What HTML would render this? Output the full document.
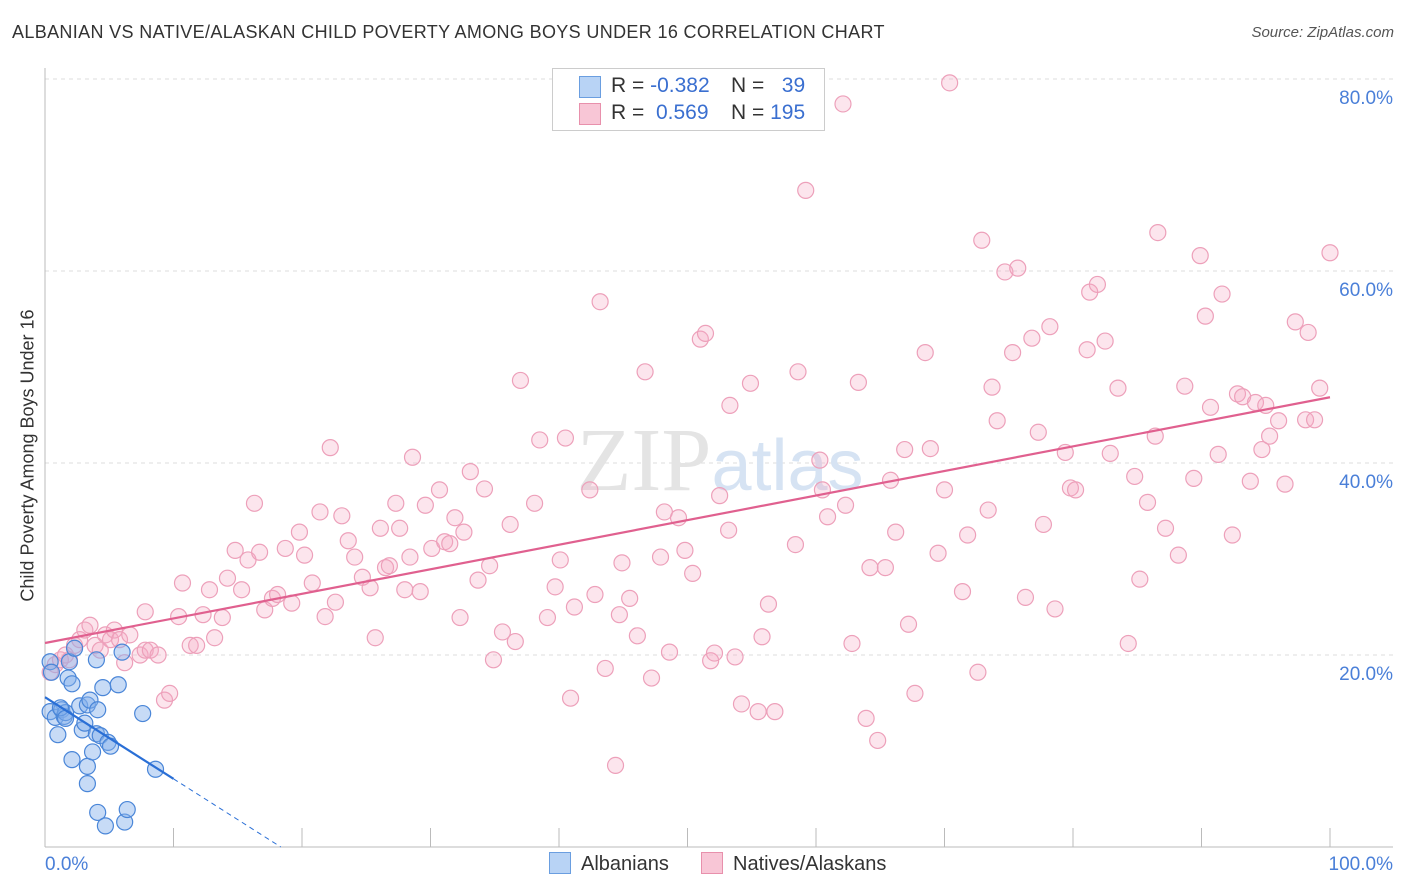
<!DOCTYPE html>
<html><head><meta charset="utf-8">
<style>
body{margin:0;background:#fff;font-family:"Liberation Sans",sans-serif;}
#wrap{position:relative;width:1406px;height:892px;overflow:hidden;}
.t{position:absolute;white-space:nowrap;}
</style></head><body>
<div id="wrap">
<div class="t" style="left:12px;top:22px;font-size:18px;color:#333;letter-spacing:0.35px">ALBANIAN VS NATIVE/ALASKAN CHILD POVERTY AMONG BOYS UNDER 16 CORRELATION CHART</div>
<div class="t" style="right:12px;top:24px;font-size:15px;color:#555;font-style:italic">Source: ZipAtlas.com</div>
<div class="t" style="left:-132px;top:445px;font-size:18px;color:#333;transform:rotate(-90deg);width:320px;text-align:center">Child Poverty Among Boys Under 16</div>
<svg id="plot" width="1406" height="892" style="position:absolute;left:0;top:0"></svg>
<div class="t" style="left:552px;top:68px;width:271px;height:61px;border:1px solid #ccc;background:#fff;font-size:21px;">
 <div style="position:absolute;left:26px;top:7px;width:20px;height:20px;background:#b8d3f5;border:1px solid #6a9ee0"></div>
 <div style="position:absolute;left:58px;top:5px;color:#333">R = <span style="color:#3a6fd0">-0.382</span></div>
 <div style="position:absolute;left:178px;top:5px;color:#333">N = <span style="color:#3a6fd0">&nbsp;&nbsp;39</span></div>
 <div style="position:absolute;left:26px;top:34px;width:20px;height:20px;background:#f8c6d6;border:1px solid #e890ac"></div>
 <div style="position:absolute;left:58px;top:32px;color:#333">R = <span style="color:#3a6fd0">&nbsp;0.569</span></div>
 <div style="position:absolute;left:178px;top:32px;color:#333">N = <span style="color:#3a6fd0">195</span></div>
</div>
<div class="t" style="left:549px;top:852px;font-size:20px;color:#333"><span style="display:inline-block;width:20px;height:20px;background:#b8d3f5;border:1px solid #6a9ee0;vertical-align:-4px;margin-right:10px"></span>Albanians</div>
<div class="t" style="left:701px;top:852px;font-size:20px;color:#333"><span style="display:inline-block;width:20px;height:20px;background:#f8c6d6;border:1px solid #e890ac;vertical-align:-4px;margin-right:10px"></span>Natives/Alaskans</div>
</div>
<script>
const yTicks=[20,40,60,80];
const yTickLabels=["20.0%","40.0%","60.0%","80.0%"];
const xTicks=[0,10,20,30,40,50,60,70,80,90,100];
const blueX=[0.4,0.5,0.4,0.8,1.0,1.3,1.5,1.6,1.8,1.9,2.1,2.1,2.3,2.7,2.9,3.1,3.3,3.3,3.3,3.5,3.7,4.0,4.0,4.1,4.1,4.3,4.5,4.7,4.9,5.1,5.7,6.0,6.2,6.4,7.6,8.6,1.2,1.6];
const blueY=[19.3,18.2,14.1,13.5,11.7,14.3,13.6,14.0,17.6,19.3,17.0,9.1,20.7,14.7,12.2,12.9,14.8,8.4,6.6,15.3,9.9,19.5,11.8,3.6,14.3,11.6,16.6,2.2,10.9,10.5,16.9,20.3,2.6,3.9,13.9,8.1,14.5,13.4];
const pinkX=[0.4,0.8,1.2,1.6,1.9,2.3,2.7,3.1,3.5,3.9,4.3,4.7,5.1,5.4,5.8,6.2,6.6,7.4,7.8,8.2,8.8,9.3,9.7,7.8,10.7,10.4,11.3,11.8,12.3,12.8,13.2,13.8,14.2,14.8,15.3,15.8,16.3,16.7,17.1,17.7,18.1,18.7,19.2,19.8,20.2,20.8,21.4,21.8,22.2,22.6,23.1,23.6,24.1,24.7,25.3,25.7,26.1,26.5,26.8,27.3,27.6,28.0,28.4,28.6,29.2,29.6,30.1,30.7,31.1,31.5,31.9,32.3,32.6,33.1,33.7,34.2,34.6,34.9,35.6,36.2,36.6,37.0,38.1,38.5,39.1,39.7,40.1,40.5,40.9,41.2,42.4,42.8,43.2,43.6,44.4,44.7,44.9,45.5,46.1,46.7,47.2,47.9,48.6,48.2,49.3,49.8,50.4,51.0,51.4,51.8,52.1,52.5,53.2,53.3,53.7,54.2,54.9,55.5,55.8,56.3,56.8,58.4,58.6,59.2,60.3,60.5,60.9,62.1,62.3,62.8,63.3,63.9,64.2,64.8,65.4,65.8,66.2,66.9,67.2,67.7,68.5,68.9,69.5,70.0,70.4,71.4,71.8,72.6,72.9,73.4,73.7,74.1,74.7,75.7,75.3,76.3,76.8,77.3,77.7,78.2,78.6,79.4,79.8,80.2,81.1,81.3,81.9,82.5,82.9,83.5,84.3,84.8,85.2,85.8,86.4,86.6,87.2,88.2,88.7,89.4,89.9,90.3,90.7,91.3,91.6,92.4,92.8,93.2,93.8,94.2,94.7,95.0,95.3,96.0,96.5,97.3,98.1,98.3,98.8,99.2,100];
const pinkY=[18.2,19.0,19.5,20.0,19.5,21.0,21.6,22.6,23.1,21.0,20.5,22.1,21.6,22.6,21.6,19.2,22.1,20.0,20.5,20.5,20.0,15.3,16.0,24.5,27.5,24.0,21.0,21.0,24.2,26.8,21.8,23.9,28.0,30.9,26.8,29.9,35.8,30.7,24.7,25.9,26.3,31.1,25.4,32.8,30.4,27.5,34.9,24.0,41.6,25.5,34.5,31.9,30.2,28.1,27.0,21.8,33.2,29.1,29.3,35.8,33.2,26.8,30.2,40.6,26.6,35.6,31.1,37.2,31.8,31.6,34.3,23.9,32.8,39.1,27.8,37.3,29.3,19.5,22.4,33.6,21.4,48.6,35.8,42.4,23.9,27.1,29.9,42.6,15.5,25.0,37.2,26.3,56.8,18.6,8.5,24.2,29.6,25.9,22.0,49.5,17.6,30.2,20.3,34.9,34.3,30.9,28.5,52.9,53.5,19.4,20.2,36.6,33.0,46.0,19.8,14.9,48.3,14.1,21.9,25.3,14.1,31.5,49.5,68.4,40.3,37.2,34.4,77.4,35.6,21.2,48.4,13.4,29.1,11.1,29.1,38.2,32.8,41.4,23.2,16.0,51.5,41.5,30.6,37.2,79.6,26.6,32.5,18.2,63.2,35.1,47.9,44.4,59.9,60.3,51.5,26.0,53.0,43.2,33.6,54.2,24.8,41.1,37.4,37.2,51.8,57.8,58.6,52.7,41.0,47.8,21.2,38.6,27.9,35.9,42.8,64.0,33.2,30.4,48.0,38.4,61.6,55.3,45.8,40.9,57.6,32.5,47.2,46.9,38.1,46.3,41.4,46.0,42.8,44.4,37.8,54.7,44.5,53.6,44.5,47.8,61.9];
const blueLine=[15.6,-0.85];
const pinkLine=[21.25,0.256];
const svg=document.getElementById('plot');
const NS='http://www.w3.org/2000/svg';
const X0=45,X1=1330,Y0=847,PY=9.6;
const sx=v=>X0+(X1-X0)*v/100;
const sy=v=>Y0-v*PY;
function mk(tag,attrs){const e=document.createElementNS(NS,tag);for(const k in attrs)e.setAttribute(k,attrs[k]);svg.appendChild(e);return e;}
yTicks.forEach((t,i)=>{
 const g=mk('line',{x1:45,x2:1393,y1:sy(t),y2:sy(t),stroke:'#ddd','stroke-dasharray':'4,4'});
 
 
 const tx=mk('text',{x:1393,y:sy(t)+25,'text-anchor':'end','font-size':19,fill:'#4a7fd8','font-family':'Liberation Sans, sans-serif'});
 tx.textContent=yTickLabels[i];
 
 
});
const ax=mk('line',{x1:45,x2:45,y1:68,y2:847,stroke:'#bbb'});


const bx=mk('line',{x1:45,x2:1393,y1:847,y2:847,stroke:'#bbb'});


xTicks.forEach(t=>{
 const l=mk('line',{x1:sx(t),x2:sx(t),y1:828,y2:847,stroke:'#bbb'});
 
 
});
[['0.0%',45,'start'],['100.0%',1393,'end']].forEach(a=>{
 const tx=mk('text',{x:a[1],y:870,'text-anchor':a[2],'font-size':19,fill:'#4a7fd8','font-family':'Liberation Sans, sans-serif'});
 tx.textContent=a[0];
 
 
});
const wm=mk('text',{x:720,y:490,'text-anchor':'middle','font-size':90,'font-family':'Liberation Serif, serif',fill:'#e4e4e4'});
wm.innerHTML='ZIP<tspan fill="#d6e3f3" font-family="Liberation Sans, sans-serif" font-size="72">atlas</tspan>';


pinkX.forEach((x,i)=>{
 const c=mk('circle',{cx:sx(x),cy:sy(pinkY[i]),r:8,fill:'rgba(244,170,196,0.3)',stroke:'#eda0ba','stroke-width':1.2});
 
 
});
blueX.forEach((x,i)=>{
 const c=mk('circle',{cx:sx(x),cy:sy(blueY[i]),r:8,fill:'rgba(130,175,235,0.45)',stroke:'#4a86d8','stroke-width':1.2});
 
 
});
const pl=mk('line',{x1:sx(0),y1:sy(pinkLine[0]),x2:sx(100),y2:sy(pinkLine[0]+pinkLine[1]*100),stroke:'#e0608f','stroke-width':2.2});


const bl=mk('line',{x1:sx(0),y1:sy(blueLine[0]),x2:sx(10),y2:sy(blueLine[0]+blueLine[1]*10),stroke:'#2a6fd6','stroke-width':2.2});


const xe=-blueLine[0]/blueLine[1];
const bd=mk('line',{x1:sx(10),y1:sy(blueLine[0]+blueLine[1]*10),x2:sx(xe),y2:sy(0),stroke:'#2a6fd6','stroke-width':1,'stroke-dasharray':'5,4'});


</script>
</body></html>
